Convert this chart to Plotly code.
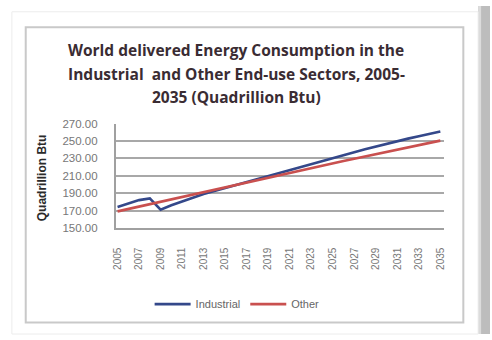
import plotly.graph_objects as go

# World delivered energy consumption, quadrillion Btu
years = list(range(2005, 2036))
industrial = [174, 178, 182, 184, 171, 176, 180.5, 185, 189, 192.5,
              196, 199.5, 203, 206.5, 210, 213.5, 217, 220.5, 224, 227.3,
              230.6, 233.9, 237.2, 240.5, 243.8, 247, 250, 252.8, 255.6, 258.3,
              261]
other = [169, 171.8, 174.6, 177.4, 180.2, 183, 185.8, 188.6, 191.4, 194.2,
         197, 199.8, 202.6, 205.4, 208.2, 211, 213.7, 216.4, 219.1, 221.8,
         224.5, 227.1, 229.7, 232.3, 234.9, 237.5, 240.1, 242.7, 245.3, 247.9,
         250.5]
year_ticks = list(range(2005, 2036, 2))
y_ticks = [150, 170, 190, 210, 230, 250, 270]

title_lines = [
    "World delivered Energy Consumption in the",
    "Industrial  and Other End-use Sectors, 2005-",
    "2035 (Quadrillion Btu)",
]

W, H = 492, 340


def px(x):
    return x / W


def py(y):
    return 1 - y / H


fig = go.Figure()
fig.add_trace(go.Scatter(x=years, y=industrial, name="Industrial", mode="lines",
                         line=dict(color="#34488a", width=2.6)))
fig.add_trace(go.Scatter(x=years, y=other, name="Other", mode="lines",
                         line=dict(color="#c9504f", width=2.6)))

shapes = [
    # card shadow on the right
    dict(type="rect", xref="paper", yref="paper", x0=px(480), x1=px(492), y0=0, y1=1,
         fillcolor="#bdbdbd", line_width=0, layer="below"),
    dict(type="rect", xref="paper", yref="paper", x0=px(480), x1=px(483), y0=0, y1=1,
         fillcolor="#dcdcdc", line_width=0, layer="below"),
    # faint card edge
    dict(type="rect", xref="paper", yref="paper", x0=px(8), x1=px(480), y0=0, y1=py(6),
         fillcolor="rgba(0,0,0,0)", line=dict(color="#ececec", width=1), layer="below"),
    # chart box border
    dict(type="rect", xref="paper", yref="paper", x0=px(22), x1=px(465), y0=py(328), y1=py(22),
         fillcolor="rgba(0,0,0,0)", line=dict(color="#c9c9c9", width=2), layer="below"),
]

annotations = []
for txt, yy in zip(title_lines, [46, 70, 94]):
    annotations.append(dict(text="<b>%s</b>" % txt, xref="paper", yref="paper",
                            x=px(235), y=py(yy), xanchor="center", yanchor="middle",
                            showarrow=False,
                            font=dict(family="Open Sans", size=15.5, color="#3a2c33")))
annotations.append(dict(text="<b>Quadrillion Btu</b>", xref="paper", yref="paper",
                        x=px(38), y=py(178), xanchor="center", yanchor="middle",
                        textangle=-90, showarrow=False,
                        font=dict(family="Liberation Sans", size=12, color="#2a2a2a")))

fig.update_layout(
    width=W, height=H,
    margin=dict(l=0, r=0, t=0, b=0),
    paper_bgcolor="white", plot_bgcolor="white",
    shapes=shapes, annotations=annotations,
    showlegend=True,
    legend=dict(orientation="h", x=px(236), xanchor="center", y=py(309), yanchor="middle",
                font=dict(family="Liberation Sans", size=11, color="#666666"),
                bgcolor="rgba(0,0,0,0)", itemwidth=36, tracegroupgap=0),
    xaxis=dict(domain=[px(113), px(445)], range=[2004.82, 2035.3],
               tickmode="array", tickvals=year_ticks, ticktext=[str(y) for y in year_ticks],
               tickangle=-90, ticklabelstandoff=14, ticks="",
               tickfont=dict(family="Liberation Sans", size=10, color="#777777"),
               showgrid=False, zeroline=False,
               showline=True, linecolor="#a0a0a0", linewidth=1.5),
    yaxis=dict(domain=[py(230), py(122)], range=[150, 270],
               tickmode="array", tickvals=y_ticks, tickformat=".2f",
               tickfont=dict(family="Liberation Sans", size=11.5, color="#777777"),
               ticks="", ticklabelstandoff=14,
               showgrid=True, gridcolor="#a8a8a8", gridwidth=1.5,
               zeroline=False, showline=True, linecolor="#a0a0a0", linewidth=1.5),
)

fig.write_html("out.html")
